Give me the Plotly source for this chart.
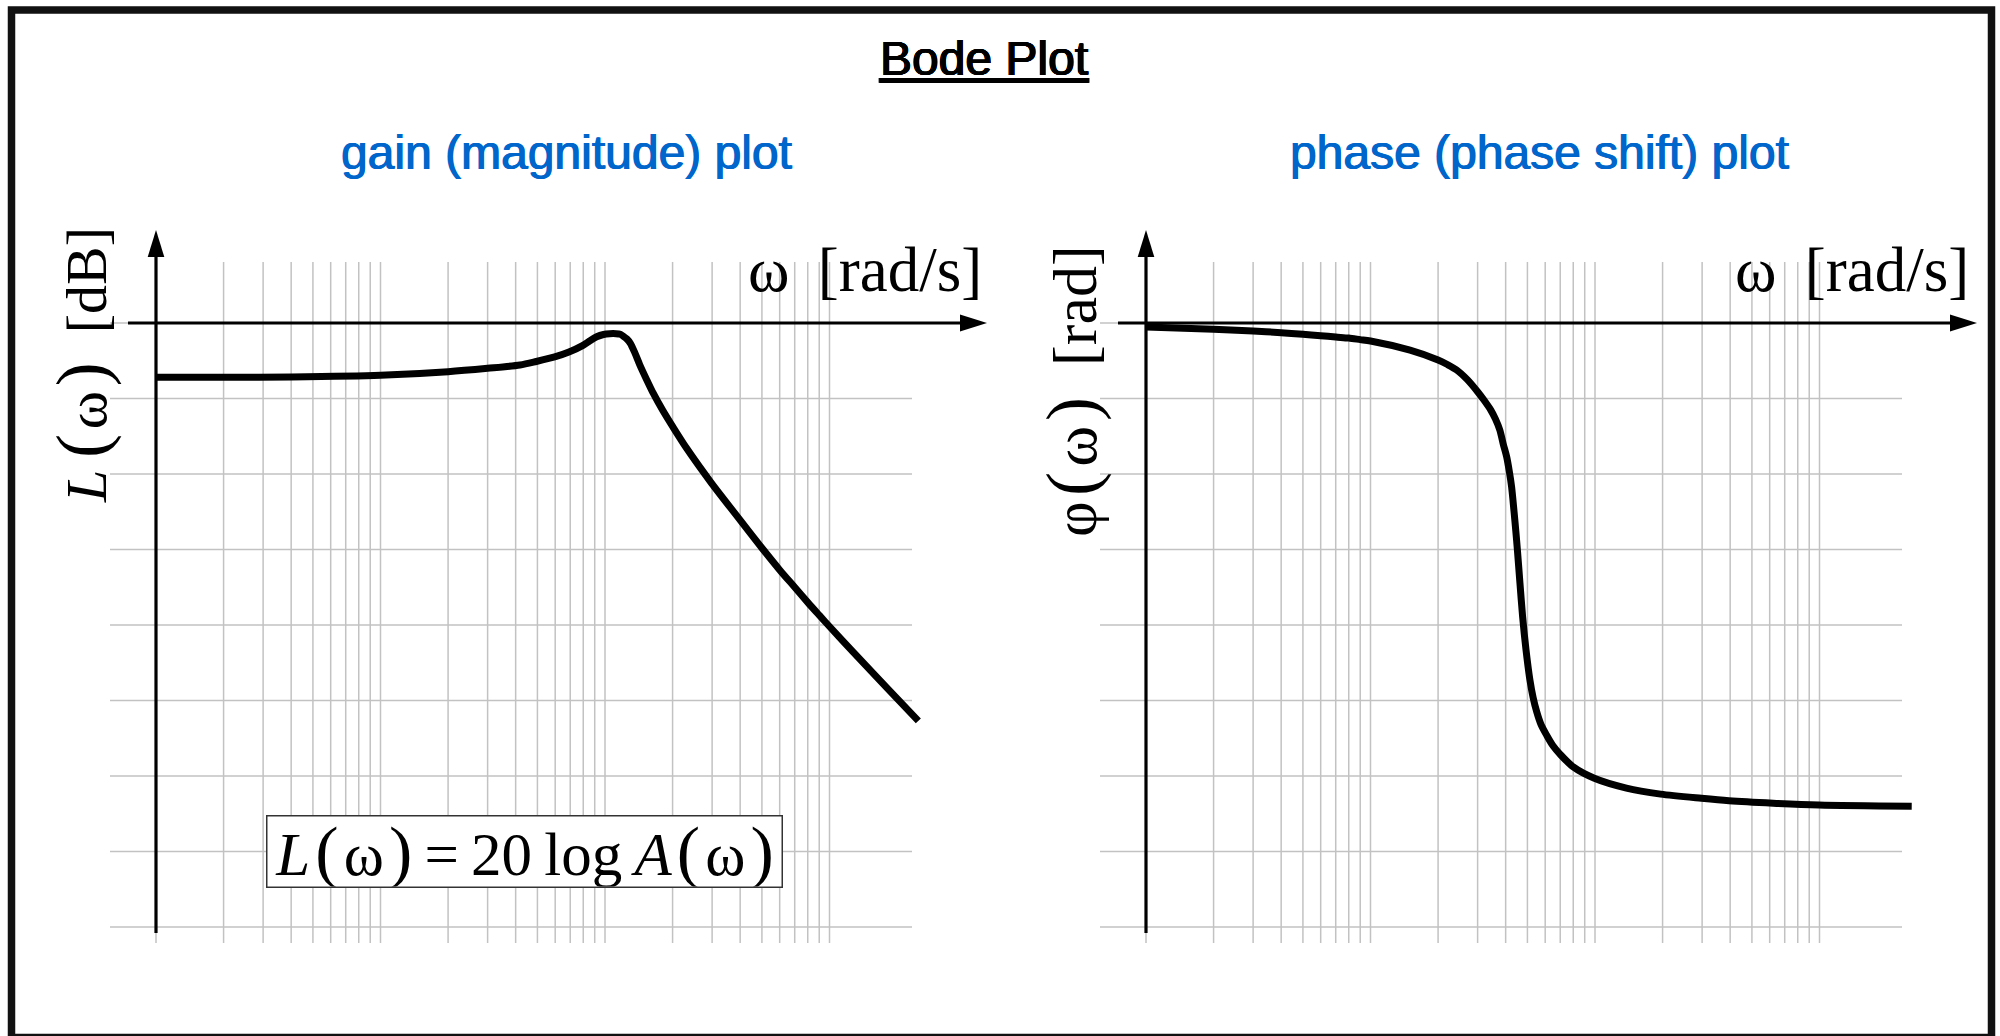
import plotly.graph_objects as go

# ---------------- data ----------------
gain_omega = [1, 2, 4, 10, 20, 30, 41.8, 49.4, 59.7, 69.1, 79.4, 85.7, 91.8,
              98.5, 105, 112, 117, 120.6, 125, 129.7, 136, 142.7, 153.3, 164,
              181, 200, 231, 298, 400, 500, 600, 700, 800, 900, 1000, 1276,
              1798, 2487]
gain_db = [-7.2, -7.2, -7.15, -6.93, -6.45, -6.0, -5.56, -5.1, -4.5, -3.85,
           -3.0, -2.35, -1.82, -1.52, -1.42, -1.42, -1.5, -1.75, -2.1, -2.69,
           -4.0, -5.5, -7.5, -9.3, -11.6, -13.7, -16.6, -21.2, -26.1, -29.8,
           -32.7, -35.0, -37.0, -38.7, -40.2, -43.6, -48.3, -52.7]

phase_omega = [1, 2, 3, 4, 5, 6, 7, 8, 9, 10, 15, 20, 22, 24.2, 27, 30, 32,
               34.3, 36, 37.7, 39, 40.4, 41.5, 42.5, 43.6, 44.4, 45.1, 46.3,
               47.6, 49.3, 51.3, 53, 55.0, 57.5, 60.9, 65, 69.8, 80.0, 99.3,
               138, 196, 298, 395, 622, 995, 2575]
phase_rad = [-0.027, -0.042, -0.053, -0.064, -0.075, -0.084, -0.093, -0.10,
             -0.11, -0.119, -0.18, -0.245, -0.275, -0.311, -0.375, -0.455,
             -0.51, -0.575, -0.635, -0.71, -0.80, -0.885, -0.98, -1.084,
             -1.25, -1.38, -1.50, -1.72, -1.945, -2.166, -2.364, -2.48,
             -2.575, -2.66, -2.73, -2.80, -2.855, -2.94, -3.015, -3.08,
             -3.12, -3.148, -3.164, -3.18, -3.192, -3.2]

grid_omega = [1, 2, 3, 4, 5, 6, 7, 8, 9, 10, 20, 30, 40, 50, 60, 70, 80, 90,
              100, 200, 300, 400, 500, 600, 700, 800, 900, 1000]
gain_grid_db = [0, -10, -20, -30, -40, -50, -60, -70, -80]
phase_grid_rad = [0, -0.5, -1.0, -1.5, -2.0, -2.5, -3.0, -3.5, -4.0]

title_text = "Bode Plot"
gain_title = "gain (magnitude) plot"
phase_title = "phase (phase shift) plot"
x_label = "ω\u00a0\u2009[rad/s]"
BIGP = "<span style='font-size:72px'>%s</span>"
gain_label = "<i>L</i>\u2009" + BIGP % "(" + "\u200aω\u200a" + BIGP % ")" + "\u00a0\u00a0[dB]"
phase_label = "φ\u200a" + BIGP % "(" + "\u200aω\u200a" + BIGP % ")" + "\u00a0\u00a0[rad]"
FP = "<span style='font-size:70px'>%s</span>"
formula = ("<i>L</i>\u200a" + FP % "(" + "\u200aω\u200a" + FP % ")" +
           "\u2009=\u200920\u2009log\u2009<i>A</i>\u200a" + FP % "(" +
           "\u200aω\u200a" + FP % ")")

# ---------------- geometry (pixels in a 2000 x 1036 page) ----------------
W, H = 2000, 1036
DEC_PX = 224.5          # pixels per decade of omega
UNIT_PX = 75.5          # pixels per grid step
ORIGIN_Y = 323          # pixel row of value 0
ORIGINS_X = [156, 1146]  # pixel column of omega = 1 (left, right panel)
STEPS = [10.0, 0.5]      # value per grid step (dB, rad)


def pxx(x):
    return x / W


def pxy(y):
    return 1 - y / H


def om(dx):
    """omega at a pixel offset dx from the panel's omega=1 column"""
    return 10 ** (dx / DEC_PX)


def val(dy, step):
    """value at a pixel offset dy (positive = down) from the zero row"""
    return -dy / UNIT_PX * step


fig = go.Figure()
layout_axes = {}
shapes = []
annotations = []

AX_W = 3.2
GRID_C = "#c2c2c2"
GRID_W = 1.5

panels = [(gain_omega, gain_db, gain_grid_db), (phase_omega, phase_rad, phase_grid_rad)]
for i, (xs, ys, gridvals) in enumerate(panels):
    ox = ORIGINS_X[i]
    step = STEPS[i]
    xa = "x" if i == 0 else "x2"
    ya = "y" if i == 0 else "y2"
    xkey = "xaxis" if i == 0 else "xaxis2"
    ykey = "yaxis" if i == 0 else "yaxis2"

    layout_axes[xkey] = dict(
        type="log", domain=[pxx(ox - 56), pxx(ox + 844)],
        range=[-56 / DEC_PX, 844 / DEC_PX], anchor=ya,
        showgrid=False, zeroline=False, showticklabels=False, ticks="",
        showline=False, fixedrange=True)
    layout_axes[ykey] = dict(
        domain=[pxy(960), pxy(215)],
        range=[val(960 - ORIGIN_Y, step), val(215 - ORIGIN_Y, step)], anchor=xa,
        showgrid=False, zeroline=False, showticklabels=False, ticks="",
        showline=False, fixedrange=True)

    # vertical grid lines
    vx, vy = [], []
    for w in grid_omega:
        vx += [w, w, None]
        vy += [val(943 - ORIGIN_Y, step), val(262 - ORIGIN_Y, step), None]
    fig.add_trace(go.Scatter(x=vx, y=vy, xaxis=xa, yaxis=ya, mode="lines",
                             line=dict(color=GRID_C, width=GRID_W),
                             hoverinfo="skip", showlegend=False))
    # horizontal grid lines
    hx, hy = [], []
    for g in gridvals:
        hx += [om(110 - 156), om(912 - 156), None]
        hy += [g, g, None]
    fig.add_trace(go.Scatter(x=hx, y=hy, xaxis=xa, yaxis=ya, mode="lines",
                             line=dict(color=GRID_C, width=GRID_W),
                             hoverinfo="skip", showlegend=False))
    # axis lines
    x_tip = om(987 - 156)
    y_tip = val(230 - ORIGIN_Y, step)
    fig.add_trace(go.Scatter(x=[om(128 - 156), om(977 - 156)], y=[0, 0],
                             xaxis=xa, yaxis=ya, mode="lines",
                             line=dict(color="black", width=AX_W),
                             hoverinfo="skip", showlegend=False))
    fig.add_trace(go.Scatter(x=[1, 1], y=[val(933 - ORIGIN_Y, step), val(240 - ORIGIN_Y, step)],
                             xaxis=xa, yaxis=ya, mode="lines",
                             line=dict(color="black", width=AX_W),
                             hoverinfo="skip", showlegend=False))
    # arrow heads
    shapes.append(dict(type="path", xref=xa, yref=ya, xsizemode="pixel",
                       ysizemode="pixel", xanchor=x_tip, yanchor=0,
                       path="M 0 0 L -27 8.5 L -27 -8.5 Z",
                       fillcolor="black", line=dict(width=0)))
    shapes.append(dict(type="path", xref=xa, yref=ya, xsizemode="pixel",
                       ysizemode="pixel", xanchor=1, yanchor=y_tip,
                       path="M 0 0 L 8.3 -27 L -8.3 -27 Z",
                       fillcolor="black", line=dict(width=0)))
    # data curve
    fig.add_trace(go.Scatter(x=xs, y=ys, xaxis=xa, yaxis=ya, mode="lines",
                             line=dict(color="black", width=7, shape="spline",
                                       smoothing=0.8),
                             hoverinfo="skip", showlegend=False))

# outer frame
shapes.append(dict(type="rect", xref="paper", yref="paper",
                   x0=pxx(11.5), x1=pxx(1991.5), y0=pxy(1037.5), y1=pxy(10),
                   line=dict(color="#111111", width=7.5), fillcolor="rgba(0,0,0,0)"))

SANS = "Liberation Sans, Arial, Helvetica, sans-serif"
SERIF = "Liberation Serif, Times New Roman, serif"
BLUE = "#0066cc"


def bold_shadow(c):
    return "0.6px 0 0 %s, -0.6px 0 0 %s" % (c, c)


annotations.append(dict(text="<u>" + title_text + "</u>", x=pxx(984), y=pxy(58),
                        xref="paper", yref="paper", showarrow=False,
                        xanchor="center", yanchor="middle",
                        font=dict(family=SANS, size=48, color="black",
                                  shadow=bold_shadow("black"))))
annotations.append(dict(text=gain_title, x=pxx(566), y=pxy(153),
                        xref="paper", yref="paper", showarrow=False,
                        xanchor="center", yanchor="middle",
                        font=dict(family=SANS, size=48, color=BLUE,
                                  shadow=bold_shadow(BLUE))))
annotations.append(dict(text=phase_title, x=pxx(1539), y=pxy(153),
                        xref="paper", yref="paper", showarrow=False,
                        xanchor="center", yanchor="middle",
                        font=dict(family=SANS, size=48, color=BLUE,
                                  shadow=bold_shadow(BLUE))))
for xr in (984, 1971):
    annotations.append(dict(text=x_label, x=pxx(xr), y=pxy(270),
                            xref="paper", yref="paper", showarrow=False,
                            xanchor="right", yanchor="middle",
                            font=dict(family=SERIF, size=63, color="black")))
annotations.append(dict(text=gain_label, x=pxx(82), y=pxy(365),
                        xref="paper", yref="paper", showarrow=False,
                        xanchor="center", yanchor="middle", textangle=-90,
                        font=dict(family=SERIF, size=58, color="black")))
annotations.append(dict(text=phase_label, x=pxx(1072), y=pxy(391),
                        xref="paper", yref="paper", showarrow=False,
                        xanchor="center", yanchor="middle", textangle=-90,
                        font=dict(family=SERIF, size=62, color="black")))
annotations.append(dict(text=formula, x=pxx(524.5), y=pxy(851.5),
                        xref="paper", yref="paper", showarrow=False,
                        xanchor="center", yanchor="middle",
                        width=514, height=70, borderpad=0, borderwidth=1.5,
                        bordercolor="#333333", bgcolor="white",
                        font=dict(family=SERIF, size=61, color="black")))

fig.update_layout(
    width=W, height=H, autosize=False,
    margin=dict(l=0, r=0, t=0, b=0, pad=0),
    paper_bgcolor="white", plot_bgcolor="rgba(0,0,0,0)",
    showlegend=False, shapes=shapes, annotations=annotations,
    **layout_axes)

fig.write_html("out.html", config={"displayModeBar": False})
